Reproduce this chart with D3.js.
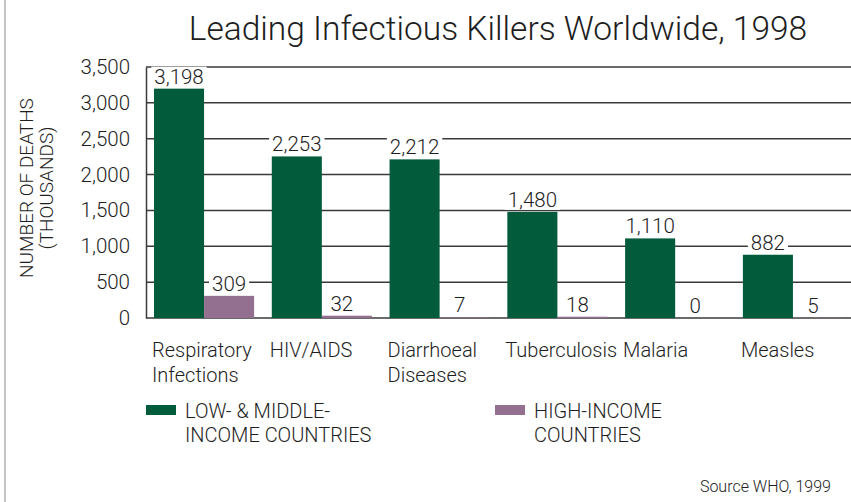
<!DOCTYPE html>
<html>
<head>
<meta charset="utf-8">
<script src="https://cdn.jsdelivr.net/npm/d3@7"></script>
<style>
  html, body { margin: 0; padding: 0; background: #fff; }
  svg { display: block; font-family: Roboto, "Open Sans", sans-serif; font-weight: 300; }
</style>
</head>
<body>
<div id="chart"></div>
<script>
// Data
var categories = [['Respiratory', 'Infections'], ['HIV/AIDS'], ['Diarrhoeal', 'Diseases'], ['Tuberculosis'], ['Malaria'], ['Measles']];
var lowMiddle = [3198, 2253, 2212, 1480, 1110, 882];
var highIncome = [309, 32, 7, 18, 0, 5];
var seriesNames = [['LOW- & MIDDLE-', 'INCOME COUNTRIES'], ['HIGH-INCOME', 'COUNTRIES']];
var seriesColors = ['#025c3c', '#947090'];
var yTicks = [0, 500, 1000, 1500, 2000, 2500, 3000, 3500];

var W = 851, H = 502;
var plot = { left: 146, right: 851, top: 67, bottom: 318 };
var ink = '#1e1e1e';

var svg = d3.select('#chart').append('svg').attr('width', W).attr('height', H);

// left page edge
svg.append('line').attr('x1', 5).attr('x2', 5).attr('y1', 0).attr('y2', H)
    .attr('stroke', '#c4c4c4').attr('stroke-width', 2);

// Title
svg.append('text').attr('x', 498).attr('y', 40).attr('text-anchor', 'middle')
    .attr('font-size', '33.5px').attr('fill', ink)
    .text('Leading Infectious Killers Worldwide, 1998');

var y = d3.scaleLinear().domain([0, 3500]).range([plot.bottom, plot.top]);
var keys = categories.map(function(c) { return c.join(' '); });
var x0 = d3.scaleBand().domain(keys).range([plot.left, plot.right])
    .paddingInner(0.15).paddingOuter(0.068);
var x1 = d3.scaleBand().domain([0, 1]).range([0, x0.bandwidth()]);

// gridlines
svg.append('g').selectAll('line').data(yTicks).enter().append('line')
    .attr('x1', plot.left).attr('x2', plot.right)
    .attr('y1', function(d) { return y(d); }).attr('y2', function(d) { return y(d); })
    .attr('stroke', '#3a3a3a').attr('stroke-width', 1.5);

// y axis
var yAxis = svg.append('g').attr('transform', 'translate(' + plot.left + ',0)')
    .call(d3.axisLeft(y).tickValues(yTicks).tickFormat(d3.format(',')).tickSize(0).tickPadding(16));
yAxis.select('.domain').attr('stroke', '#3a3a3a').attr('stroke-width', 1.5);
yAxis.selectAll('text').attr('font-size', '20.5px').attr('fill', ink)
    .attr('font-family', 'Roboto, sans-serif').attr('font-weight', 300);

// y title
var yt = svg.append('text').attr('transform', 'translate(33,188) rotate(-90)')
    .attr('text-anchor', 'middle').attr('font-size', '19px').attr('fill', ink);
yt.append('tspan').attr('x', 0).attr('dy', 0).text('NUMBER OF DEATHS');
yt.append('tspan').attr('x', 0).attr('dy', 20).text('(THOUSANDS)');

// bars
var rows = keys.map(function(k, i) { return { key: k, vals: [lowMiddle[i], highIncome[i]] }; });
var groups = svg.append('g').selectAll('g').data(rows).enter().append('g')
    .attr('transform', function(d) { return 'translate(' + x0(d.key) + ',0)'; });

groups.selectAll('rect').data(function(d) { return d.vals; }).enter().append('rect')
    .attr('x', function(d, j) { return x1(j); })
    .attr('width', x1.bandwidth())
    .attr('y', function(d) { return y(d); })
    .attr('height', function(d) { return y(0) - y(d); })
    .attr('fill', function(d, j) { return seriesColors[j]; });

// value labels with white backing
groups.each(function(d) {
    var g = d3.select(this);
    d.vals.forEach(function(v, j) {
        var cx = x1(j) + x1.bandwidth() / 2 - (v < 100 ? 5 : 0);
        var t = g.append('text').attr('x', cx).attr('y', y(v) - 5)
            .attr('text-anchor', 'middle').attr('font-size', '20.5px').attr('fill', ink)
            .text(d3.format(',')(v));
        var bb = t.node().getBBox();
        g.insert('rect', function() { return t.node(); })
            .attr('x', bb.x - 3).attr('y', bb.y + 2).attr('width', bb.width + 6).attr('height', bb.height - 4)
            .attr('fill', '#fff');
    });
});

// category labels
var cat = svg.append('g').selectAll('text').data(categories).enter().append('text')
    .attr('x', function(d) { return x0(d.join(' ')) - 2; })
    .attr('y', 357).attr('font-size', '20px').attr('fill', ink);
cat.selectAll('tspan').data(function(d) { return d; }).enter().append('tspan')
    .attr('x', function() { return d3.select(this.parentNode).attr('x'); })
    .attr('dy', function(d, i) { return i === 0 ? 0 : 25; })
    .text(function(d) { return d; });

// legend
var legX = [146, 495];
seriesNames.forEach(function(name, i) {
    svg.append('rect').attr('x', legX[i]).attr('y', 405).attr('width', 30).attr('height', 10)
        .attr('fill', seriesColors[i]);
    var t = svg.append('text').attr('x', legX[i] + 39).attr('y', 418)
        .attr('font-size', '20px').attr('fill', ink);
    name.forEach(function(line, k) {
        t.append('tspan').attr('x', legX[i] + 39).attr('dy', k === 0 ? 0 : 24).text(line);
    });
});

// source
svg.append('text').attr('x', 831).attr('y', 492).attr('text-anchor', 'end')
    .attr('font-size', '16px').attr('fill', ink).text('Source WHO, 1999');
</script>
</body>
</html>
